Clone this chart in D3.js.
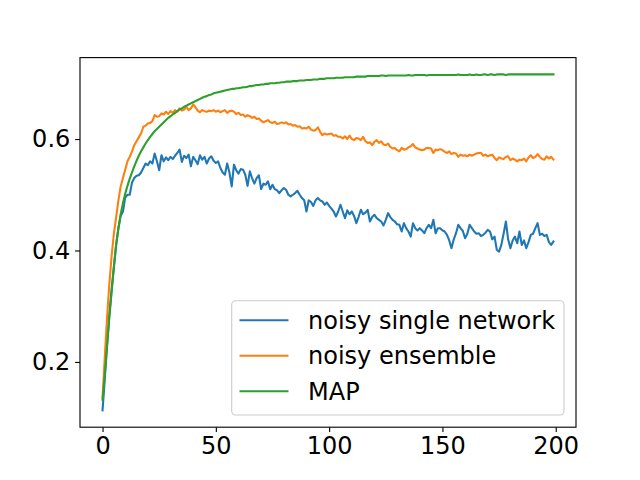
<!DOCTYPE html>
<html>
<head>
<meta charset="utf-8">
<script src="https://cdn.jsdelivr.net/npm/d3@7"></script>
<style>
  body { margin: 0; background: #fff; }
  svg { font-family: "DejaVu Sans", sans-serif; }
</style>
</head>
<body>
<svg id="chart"></svg>
<script>
// values per epoch
const single = [
  0.113, 0.17, 0.23, 0.285, 0.33, 0.37, 0.41, 0.44, 0.462, 0.47,
  0.495, 0.5, 0.5, 0.522, 0.53, 0.534, 0.535, 0.54, 0.548, 0.556,
  0.553, 0.56, 0.556, 0.574, 0.56, 0.544, 0.571, 0.56, 0.567, 0.562,
  0.568, 0.564, 0.57, 0.575, 0.581, 0.559, 0.57, 0.566, 0.572, 0.551,
  0.568, 0.562, 0.555, 0.571, 0.563, 0.568, 0.556, 0.565, 0.569, 0.561,
  0.557, 0.56, 0.548, 0.54, 0.536, 0.556, 0.54, 0.515, 0.554, 0.544,
  0.538, 0.546, 0.545, 0.536, 0.516, 0.542, 0.53, 0.52, 0.53, 0.535,
  0.51, 0.52, 0.518, 0.524, 0.51, 0.518, 0.51, 0.508, 0.503, 0.508,
  0.512, 0.509, 0.5, 0.497, 0.5, 0.503, 0.507, 0.5, 0.494, 0.49,
  0.47, 0.49, 0.487, 0.48, 0.49, 0.494, 0.49, 0.488, 0.482, 0.486,
  0.48, 0.475, 0.47, 0.461, 0.47, 0.482, 0.47, 0.458, 0.472, 0.465,
  0.47, 0.462, 0.449, 0.46, 0.473, 0.465, 0.468, 0.473, 0.452, 0.46,
  0.464, 0.458, 0.455, 0.452, 0.445, 0.455, 0.467, 0.46, 0.455, 0.452,
  0.447, 0.446, 0.434, 0.449, 0.44, 0.434, 0.425, 0.449, 0.44, 0.436,
  0.44, 0.436, 0.431, 0.44, 0.446, 0.44, 0.455, 0.431, 0.44, 0.44,
  0.436, 0.434, 0.428, 0.418, 0.404, 0.42, 0.431, 0.446, 0.44, 0.435,
  0.422, 0.43, 0.446, 0.44, 0.434, 0.43, 0.431, 0.426, 0.428, 0.432,
  0.437, 0.434, 0.42, 0.425, 0.401, 0.398, 0.41, 0.43, 0.452, 0.42,
  0.404, 0.418, 0.425, 0.413, 0.434, 0.41, 0.418, 0.404, 0.415, 0.428,
  0.43, 0.44, 0.449, 0.428, 0.43, 0.426, 0.428, 0.415, 0.41, 0.416
]

const ensemble = [
  0.135, 0.21, 0.28, 0.34, 0.39, 0.43, 0.46, 0.49, 0.515, 0.53,
  0.545, 0.56, 0.568, 0.578, 0.589, 0.596, 0.603, 0.61, 0.622, 0.624,
  0.628, 0.629, 0.632, 0.643, 0.64, 0.641, 0.646, 0.644, 0.649, 0.645,
  0.65, 0.647, 0.652, 0.649, 0.655, 0.651, 0.653, 0.658, 0.652, 0.655,
  0.662, 0.657, 0.651, 0.648, 0.652, 0.65, 0.649, 0.651, 0.65, 0.652,
  0.649, 0.651, 0.648, 0.65, 0.652, 0.647, 0.65, 0.651, 0.649, 0.645,
  0.647, 0.643, 0.644, 0.64, 0.643, 0.641, 0.638, 0.64, 0.636, 0.637,
  0.633, 0.63, 0.632, 0.634, 0.63, 0.629, 0.631, 0.627, 0.628, 0.63,
  0.628, 0.63, 0.626, 0.627, 0.624, 0.625, 0.622, 0.623, 0.619, 0.62,
  0.619, 0.622, 0.617, 0.615, 0.616, 0.621, 0.613, 0.607, 0.61, 0.608,
  0.609, 0.61, 0.606, 0.607, 0.604, 0.604, 0.601, 0.605, 0.6, 0.606,
  0.6, 0.598, 0.602, 0.601, 0.598, 0.604, 0.596, 0.593, 0.594, 0.589,
  0.595, 0.598, 0.593, 0.596, 0.59, 0.589, 0.592, 0.586, 0.583, 0.584,
  0.58, 0.578, 0.584, 0.581, 0.582, 0.585, 0.587, 0.591, 0.585, 0.583,
  0.581, 0.58, 0.581, 0.584, 0.584, 0.583, 0.575, 0.581, 0.58, 0.582,
  0.58, 0.577, 0.575, 0.578, 0.573, 0.575, 0.574, 0.568, 0.572, 0.57,
  0.571, 0.569, 0.572, 0.57, 0.572, 0.574, 0.575, 0.575, 0.57, 0.572,
  0.569, 0.571, 0.572, 0.566, 0.562, 0.567, 0.565, 0.564, 0.568, 0.569,
  0.562, 0.565, 0.563, 0.56, 0.563, 0.562, 0.565, 0.56, 0.567, 0.571,
  0.566, 0.568, 0.573, 0.568, 0.564, 0.563, 0.569, 0.565, 0.568, 0.563
]

const map = [
  0.132, 0.178, 0.23, 0.28, 0.325, 0.37, 0.41, 0.44, 0.465, 0.485,
  0.502, 0.516, 0.529, 0.54, 0.551, 0.561, 0.57, 0.578, 0.585, 0.592,
  0.598, 0.604, 0.609, 0.614, 0.618, 0.622, 0.626, 0.63, 0.634, 0.638,
  0.641, 0.644, 0.647, 0.65, 0.653, 0.655, 0.658, 0.66, 0.662, 0.664,
  0.666, 0.668, 0.67, 0.672, 0.674, 0.676, 0.677, 0.679, 0.68, 0.682,
  0.683, 0.684, 0.685, 0.686, 0.687, 0.688, 0.689, 0.69, 0.69, 0.691,
  0.691, 0.692, 0.693, 0.693, 0.694, 0.695, 0.695, 0.696, 0.697, 0.697,
  0.698, 0.698, 0.699, 0.699, 0.7, 0.7, 0.7, 0.701, 0.701, 0.702,
  0.702, 0.703, 0.703, 0.703, 0.704, 0.704, 0.704, 0.705, 0.705, 0.705,
  0.706, 0.706, 0.706, 0.707, 0.707, 0.707, 0.708, 0.708, 0.708, 0.709,
  0.709, 0.709, 0.709, 0.71, 0.71, 0.71, 0.71, 0.711, 0.711, 0.711,
  0.711, 0.711, 0.712, 0.712, 0.712, 0.712, 0.712, 0.713, 0.713, 0.713,
  0.713, 0.713, 0.713, 0.714, 0.714, 0.713, 0.714, 0.714, 0.714, 0.714,
  0.714, 0.714, 0.714, 0.714, 0.714, 0.715, 0.714, 0.714, 0.715, 0.715,
  0.715, 0.715, 0.715, 0.714, 0.715, 0.715, 0.715, 0.715, 0.715, 0.715,
  0.715, 0.715, 0.715, 0.715, 0.715, 0.715, 0.715, 0.716, 0.715, 0.715,
  0.715, 0.715, 0.716, 0.715, 0.715, 0.716, 0.715, 0.715, 0.716, 0.716,
  0.715, 0.716, 0.716, 0.715, 0.716, 0.716, 0.716, 0.716, 0.715, 0.716,
  0.716, 0.716, 0.716, 0.716, 0.716, 0.716, 0.716, 0.716, 0.716, 0.716,
  0.716, 0.716, 0.716, 0.716, 0.716, 0.716, 0.716, 0.716, 0.716, 0.716
]

const seriesNames = ["noisy single network", "noisy ensemble", "MAP"]
const seriesColors = ["#1f77b4", "#ff7f0e", "#2ca02c"]
const xTicks = [0, 50, 100, 150, 200]
const yTicks = [0.2, 0.4, 0.6]

const width = 640
const height = 480
const margin = { left: 80, right: 64, top: 57.6, bottom: 52.8 }
const fontSize = 24

const svg = d3.select("#chart")
    .attr("width", width)
    .attr("height", height)

const allSeries = [single, ensemble, map]
const n = single.length
const xPad = (n - 1) * 0.05
const yMin = d3.min(allSeries, s => d3.min(s))
const yMax = d3.max(allSeries, s => d3.max(s))
const yPad = (yMax - yMin) * 0.05

const x = d3.scaleLinear()
    .domain([-xPad, n - 1 + xPad])
    .range([margin.left, width - margin.right])

const y = d3.scaleLinear()
    .domain([yMin - yPad, yMax + yPad])
    .range([height - margin.bottom, margin.top])

const line = d3.line()
    .x((d, i) => x(i))
    .y(d => y(d))

// lines, green drawn last like in the original
allSeries.forEach((s, k) => {
    svg.append("path")
        .datum(s)
        .attr("fill", "none")
        .attr("stroke", seriesColors[k])
        .attr("stroke-width", 2.08)
        .attr("stroke-linejoin", "round")
        .attr("stroke-linecap", "square")
        .attr("d", line)
})

// axes
const xAxis = svg.append("g")
    .attr("transform", `translate(0,${height - margin.bottom})`)
    .call(d3.axisBottom(x).tickValues(xTicks).tickSize(4.86).tickPadding(4.86))
const yAxis = svg.append("g")
    .attr("transform", `translate(${margin.left},0)`)
    .call(d3.axisLeft(y).tickValues(yTicks).tickFormat(d3.format(".1f")).tickSize(4.86).tickPadding(4.86))

;[xAxis, yAxis].forEach(a => {
    a.select(".domain").remove()
    a.selectAll(".tick line").attr("stroke", "#000").attr("stroke-width", 1.11)
    a.selectAll(".tick text")
        .attr("fill", "#000")
        .style("font-size", fontSize + "px")
        .style("font-family", "DejaVu Sans")
})

// frame
svg.append("rect")
    .attr("x", margin.left)
    .attr("y", margin.top)
    .attr("width", width - margin.left - margin.right)
    .attr("height", height - margin.top - margin.bottom)
    .attr("fill", "none")
    .attr("stroke", "#000")
    .attr("stroke-width", 1.11)

// legend
const legend = svg.append("g")
legend.append("rect")
    .attr("x", 231.7)
    .attr("y", 300.7)
    .attr("width", 332.3)
    .attr("height", 114.3)
    .attr("rx", 4)
    .attr("fill", "#fff")
    .attr("fill-opacity", 0.8)
    .attr("stroke", "#cccccc")
    .attr("stroke-width", 1.11)

seriesNames.forEach((name, k) => {
    const ly = 320.3 + k * 35.5
    legend.append("line")
        .attr("x1", 239.5).attr("x2", 288.5)
        .attr("y1", ly).attr("y2", ly)
        .attr("stroke", seriesColors[k])
        .attr("stroke-width", 2.08)
    legend.append("text")
        .attr("x", 308)
        .attr("y", ly)
        .attr("dy", "0.36em")
        .style("font-size", fontSize + "px")
        .text(name)
})
</script>
</body>
</html>
